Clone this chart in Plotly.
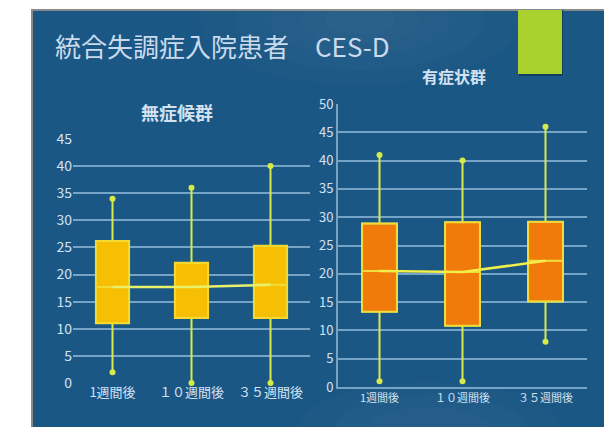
import plotly.graph_objects as go

W, H = 604, 427

weeks = ["1週間後", "１０週間後", "３５週間後"]

# 無症候群 (CES-D)
asym_low = [2, 0, 0]
asym_q1 = [11, 12, 12]
asym_med = [17.7, 17.7, 18.1]
asym_q3 = [26.2, 22.2, 25.3]
asym_high = [34, 36, 40]

# 有症状群 (CES-D)
sym_low = [1, 1, 8]
sym_q1 = [13.3, 10.8, 15.1]
sym_med = [20.5, 20.3, 22.3]
sym_q3 = [28.9, 29.1, 29.2]
sym_high = [41, 40, 46]

left_ticks = list(range(0, 50, 5))
right_ticks = list(range(0, 55, 5))

FONT = "Noto Sans CJK JP"
TXT = "#d3e2f0"
GRID = "rgba(150,190,222,0.75)"
WHISK = "#d6ea4c"
BG = "#1b5785"


def fx(px):
    return px / W


def fy(py):
    return 1 - py / H


fig = go.Figure()


def add_group(xa, ya, low, q1, med, q3, high, fill, border, mline):
    fig.add_trace(go.Box(
        x=weeks, q1=q1, median=med, q3=q3,
        lowerfence=low, upperfence=high,
        xaxis=xa, yaxis=ya,
        fillcolor=fill, line=dict(color=WHISK, width=2),
        whiskerwidth=0, width=0.42, boxpoints=False,
        hoverinfo="skip", showlegend=False,
    ))
    # box outline drawn again over the fill
    fig.add_trace(go.Box(
        x=weeks, q1=q1, median=med, q3=q3,
        lowerfence=q1, upperfence=q3,
        xaxis=xa, yaxis=ya,
        fillcolor="rgba(0,0,0,0)", line=dict(color=border, width=1.5),
        whiskerwidth=0, width=0.42, boxpoints=False,
        hoverinfo="skip", showlegend=False,
    ))
    # whisker end dots
    fig.add_trace(go.Scatter(
        x=weeks + weeks, y=low + high, xaxis=xa, yaxis=ya,
        mode="markers", marker=dict(color=WHISK, size=6),
        cliponaxis=False, hoverinfo="skip", showlegend=False,
    ))
    # median trend line
    fig.add_trace(go.Scatter(
        x=weeks, y=med, xaxis=xa, yaxis=ya, mode="lines",
        line=dict(color=mline, width=2.5),
        hoverinfo="skip", showlegend=False,
    ))


add_group("x", "y", asym_low, asym_q1, asym_med, asym_q3, asym_high,
          "#f7bf04", "#fbd52a", "#e9f06a")
add_group("x2", "y2", sym_low, sym_q1, sym_med, sym_q3, sym_high,
          "#f07a0a", "#f8d838", "#f2ee4a")

axis_font = dict(family=FONT, size=14, color=TXT)

fig.update_layout(
    width=W, height=H,
    margin=dict(l=0, r=0, t=0, b=0, autoexpand=False),
    paper_bgcolor="white",
    plot_bgcolor="rgba(0,0,0,0)",
    xaxis=dict(domain=[fx(73), fx(310)], anchor="y", type="category",
               range=[-0.5, 2.5], showgrid=False, zeroline=False,
               showline=False, ticks="", automargin=False,
               tickfont=dict(family=FONT, size=13, color=TXT)),
    yaxis=dict(domain=[fy(383), fy(139)], anchor="x", range=[0, 45],
               tickvals=left_ticks, showgrid=True, gridcolor=GRID,
               gridwidth=2, zeroline=False, showline=False, ticks="",
               automargin=False, tickfont=axis_font),
    xaxis2=dict(domain=[fx(338), fx(587)], anchor="y2", type="category",
                range=[-0.5, 2.5], showgrid=False, zeroline=False,
                showline=True, linecolor=GRID, linewidth=2, ticks="",
                automargin=False,
                tickfont=dict(family=FONT, size=11, color=TXT)),
    yaxis2=dict(domain=[fy(387), fy(104)], anchor="x2", range=[0, 50],
                tickvals=right_ticks, showgrid=True, gridcolor=GRID,
                gridwidth=2, zeroline=False, showline=True, linecolor=GRID,
                linewidth=2, ticks="", automargin=False,
                tickfont=dict(family=FONT, size=13, color=TXT)),
)

shapes = [
    # slide background
    dict(type="rect", xref="paper", yref="paper", x0=fx(32), x1=fx(606),
         y0=fy(429), y1=fy(10), fillcolor=BG,
         line=dict(color="#8a8a8a", width=2), layer="below"),
]
# soft highlights on the slide
for cx, cy, rx, ry in [(360, 20, 160, 65), (360, 20, 125, 50), (360, 20, 90, 36),
                       (360, 20, 60, 24), (360, 20, 35, 14), (430, 427, 130, 45),
                       (430, 427, 95, 32), (430, 427, 60, 20)]:
    shapes.append(dict(type="circle", xref="paper", yref="paper",
                       x0=fx(cx - rx), x1=fx(cx + rx),
                       y0=fy(cy + ry), y1=fy(cy - ry),
                       fillcolor="white", opacity=0.016, line=dict(width=0),
                       layer="below"))
# accent block
shapes.append(dict(type="rect", xref="paper", yref="paper",
                   x0=fx(519), x1=fx(563), y0=fy(76), y1=fy(10),
                   fillcolor="#0f3e63", line=dict(width=0), layer="below"))
shapes.append(dict(type="rect", xref="paper", yref="paper",
                   x0=fx(518), x1=fx(562), y0=fy(74), y1=fy(10),
                   fillcolor="#a9d22e", line=dict(width=0), layer="below"))
fig.update_layout(shapes=shapes)

fig.add_annotation(text="統合失調症入院患者　CES-D", xref="paper", yref="paper",
                   x=fx(53), y=fy(45), xanchor="left", yanchor="middle",
                   showarrow=False, font=dict(family=FONT, size=26, color="#c9dbec"))
fig.add_annotation(text="<b>無症候群</b>", xref="paper", yref="paper",
                   x=fx(177), y=fy(112), xanchor="center", yanchor="middle",
                   showarrow=False, font=dict(family=FONT, size=18, color=TXT))
fig.add_annotation(text="<b>有症状群</b>", xref="paper", yref="paper",
                   x=fx(454), y=fy(76), xanchor="center", yanchor="middle",
                   showarrow=False, font=dict(family=FONT, size=16, color=TXT))

fig.write_html("out.html")
